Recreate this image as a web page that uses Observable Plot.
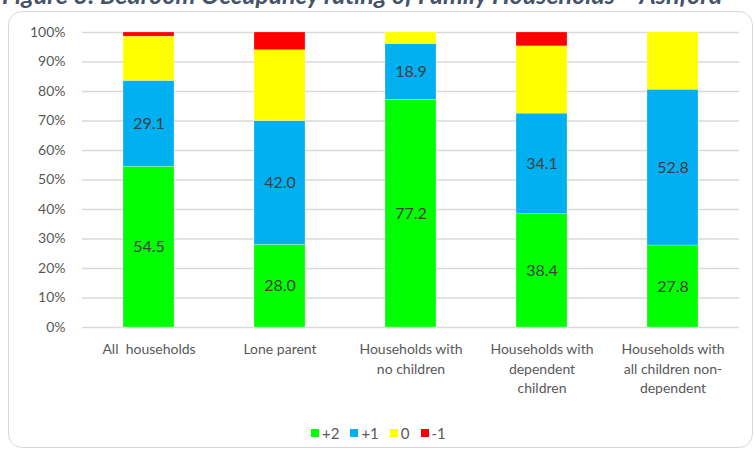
<!DOCTYPE html>
<html>
<head>
<meta charset="utf-8">
<script src="https://cdn.jsdelivr.net/npm/d3@7"></script>
<script src="https://cdn.jsdelivr.net/npm/@observablehq/plot@0.6"></script>
<style>
  html, body { margin: 0; padding: 0; background: #fff; }
  #wrap { position: relative; width: 755px; height: 454px; overflow: hidden; font-family: Lato, "Open Sans", sans-serif; }
  #title { position: absolute; left: 2px; top: -21px; white-space: nowrap; font-size: 25px; font-weight: bold; font-style: italic; color: #44546A; }
  #frame { position: absolute; left: 8px; top: 11px; width: 745px; height: 437px; border: 1.5px solid #d9d9d9; border-radius: 14px; box-sizing: border-box; }
  #chart { position: absolute; left: 0; top: 0; }
  #legend { position: absolute; top: 424px; left: 311px; display: flex; align-items: center; font-size: 15px; color: #595959; }
  #legend span.sw { display: inline-block; width: 8px; height: 8px; margin-right: 3px; }
  #legend span.lb { margin-right: 11px; }
</style>
</head>
<body>
<div id="wrap">
  <div id="title">Figure 3: Bedroom Occupancy rating of Family Households – Ashford</div>
  <div id="frame"></div>
  <div id="chart"></div>
  <div id="legend"></div>
</div>
<script>
const categories = ["All  households", "Lone parent", "Households with no children", "Households with dependent children", "Households with all children non-dependent"];
const tickLabels = ["All  households", "Lone parent", "Households with\nno children", "Households with\ndependent\nchildren", "Households with\nall children non-\ndependent"];
const series = ["+2", "+1", "0", "-1"];
const colors = ["#00FF00", "#00B0F0", "#FFFF00", "#FF0000"];
const plus2 = [54.5, 28.0, 77.2, 38.4, 27.8];
const plus1 = [29.1, 42.0, 18.9, 34.1, 52.8];
const zero = [15.0, 24.0, 3.9, 22.8, 19.4];
const minus1 = [1.4, 6.0, 0.0, 4.7, 0.0];
const yTicks = [0, 10, 20, 30, 40, 50, 60, 70, 80, 90, 100];

const seriesValues = [plus2, plus1, zero, minus1];
const data = [];
series.forEach((s, si) => {
  categories.forEach((c, ci) => {
    data.push({cat: c, series: s, value: seriesValues[si][ci]});
  });
});
const labelData = data.filter(d => d.series === "+2" || d.series === "+1");

const chart = Plot.plot({
  width: 755,
  height: 400,
  marginTop: 32,
  marginBottom: 73,
  marginLeft: 82,
  marginRight: 16,
  style: {fontFamily: "Lato, 'Open Sans', sans-serif", fontSize: "14px", color: "#595959", background: "transparent"},
  x: {domain: categories, paddingInner: 0.61, paddingOuter: 0.305, axis: null, label: null},
  y: {domain: [0, 100], axis: null, label: null},
  color: {domain: series, range: colors},
  marks: [
    Plot.gridY(yTicks, {stroke: "#d9d9d9", strokeOpacity: 1, strokeWidth: 1.3}),
    Plot.axisY(yTicks, {tickSize: 0, tickPadding: 17, tickFormat: d => d + "%", fontSize: 14, label: null}),
    Plot.barY(data, Plot.stackY({x: "cat", y: "value", z: "series", fill: "series", stroke: "#ffffff", strokeOpacity: 0.4, strokeWidth: 0.6})),
    Plot.text(labelData, Plot.stackY({x: "cat", y: "value", z: "series", text: d => d.value.toFixed(1), fill: "#404040", fontSize: 16})),
    Plot.axisX({tickSize: 0, tickPadding: 13, tickFormat: d => tickLabels[categories.indexOf(d)], fontSize: 14, lineHeight: 1.38, label: null})
  ]
});
document.getElementById("chart").appendChild(chart);

const legend = document.getElementById("legend");
series.forEach((s, i) => {
  const sw = document.createElement("span");
  sw.className = "sw";
  sw.style.background = colors[i];
  const lb = document.createElement("span");
  lb.className = "lb";
  lb.textContent = s;
  legend.appendChild(sw);
  legend.appendChild(lb);
});
</script>
</body>
</html>
